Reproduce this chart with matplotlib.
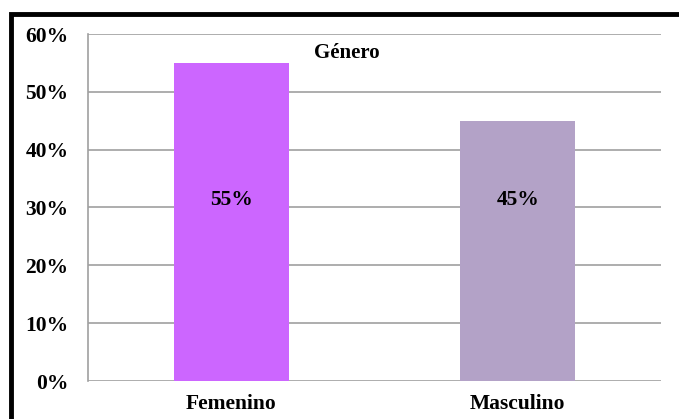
import matplotlib.pyplot as plt
from matplotlib.patches import Rectangle
from matplotlib.ticker import FuncFormatter

categories = ["Femenino", "Masculino"]
values = [55, 45]
bar_colors = ["#CC66FF", "#B3A2C7"]
title = "Género"

W, H = 679, 419
fig = plt.figure(figsize=(W / 100, H / 100), dpi=100)
plt.rcParams["font.family"] = ["Liberation Serif", "DejaVu Serif"]

# black frame around the chart (runs off the right and bottom edges)
frame = Rectangle((11 / W, -0.1), 1.2, 1 - 14 / H + 0.1, transform=fig.transFigure,
                  fill=False, edgecolor="black", linewidth=3.5, clip_on=False)
fig.patches.append(frame)

ax = fig.add_axes([88 / W, 1 - 381 / H, (661 - 88) / W, (381 - 34) / H])
x = range(len(categories))
ax.bar(x, values, width=0.4, color=bar_colors, zorder=2)

ax.set_xlim(-0.5, 1.5)
ax.set_ylim(0, 60)
ax.set_yticks(range(0, 61, 10))
ax.yaxis.set_major_formatter(FuncFormatter(lambda v, _: f"{int(v)}%"))
ax.set_xticks(list(x))
ax.set_xticklabels(categories)
ax.tick_params(axis="both", length=0, labelsize=15.5)
for lab in ax.get_xticklabels() + ax.get_yticklabels():
    lab.set_fontweight("bold")
ax.tick_params(axis="y", pad=14)
ax.tick_params(axis="x", pad=9)

ax.grid(axis="y", color="#A0A0A0", linewidth=1.2, zorder=1)
for side in ["top", "right", "bottom"]:
    ax.spines[side].set_visible(False)
ax.spines["left"].set_color("#A0A0A0")
ax.spines["left"].set_linewidth(1.2)

for i, v in enumerate(values):
    ax.text(i, 31.3, f"{v}%", ha="center", va="center", fontsize=15.5,
            fontweight="bold", zorder=3)

ax.text(0.452, 0.945, title, transform=ax.transAxes, ha="center", va="center",
        fontsize=15, fontweight="bold")

fig.savefig("out.png", dpi=100)
